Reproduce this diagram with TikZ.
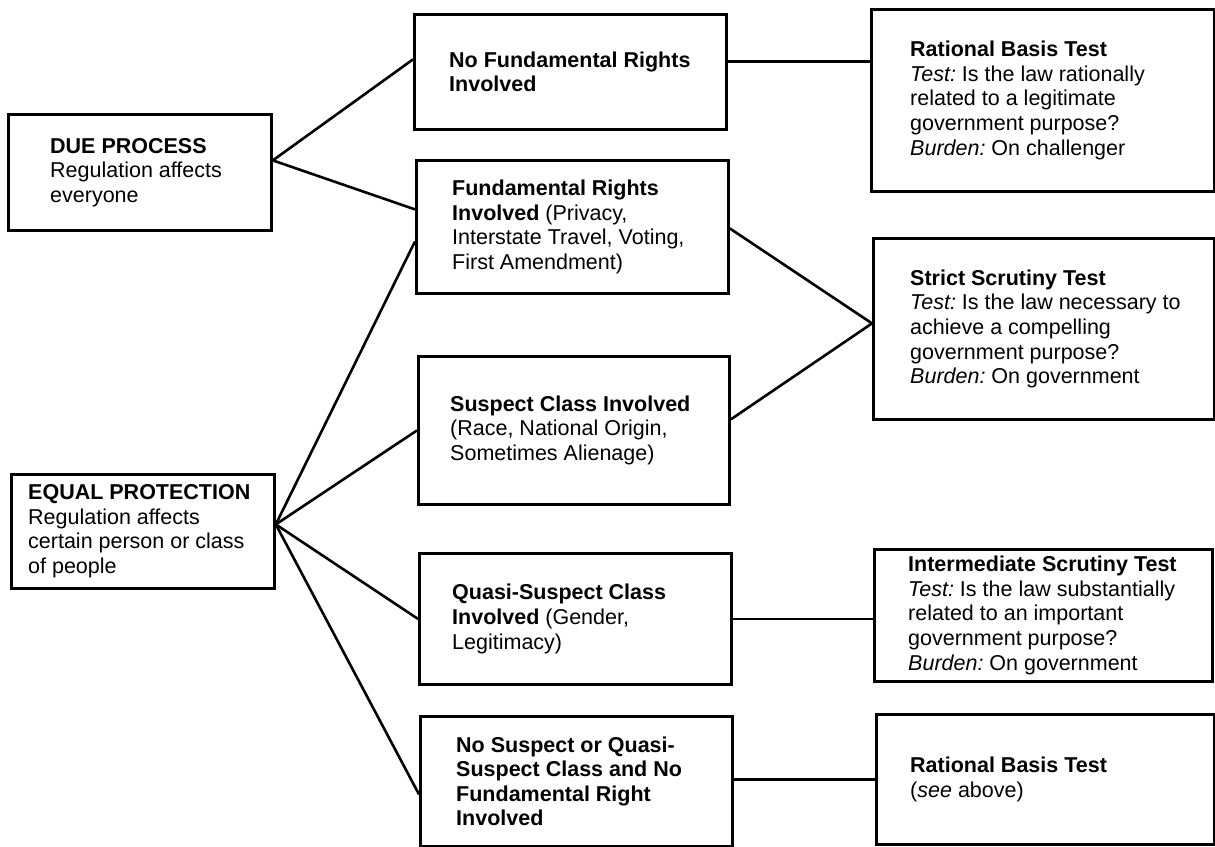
\documentclass[tikz,border=0pt]{standalone}
\usepackage{fontspec}
\setmainfont{Liberation Sans}
\begin{document}
\frenchspacing
\begin{tikzpicture}[x=1pt,y=-1pt,
  box/.style={draw, line width=2.8pt, rectangle, inner sep=0pt, anchor=north west},
  txt/.style={align=left, inner sep=0pt, anchor=west, font=\fontsize{21.5}{24.6}\selectfont\frenchspacing},
  link/.style={line width=2.6pt}]
\useasboundingbox (0,0) rectangle (1215,846);
% left column
\node[box, minimum width=263pt, minimum height=116pt] (due) at (7,113) {};
\node[box, minimum width=263pt, minimum height=114pt] (equal) at (10,473) {};
% middle column
\node[box, minimum width=312pt, minimum height=115pt] (nofund) at (413,13) {};
\node[box, minimum width=312pt, minimum height=133pt] (fund) at (415,159) {};
\node[box, minimum width=311pt, minimum height=148pt] (susp) at (417,355) {};
\node[box, minimum width=312pt, minimum height=131pt] (quasi) at (418,552) {};
\node[box, minimum width=312pt, minimum height=130pt] (nosusp) at (419,715) {};
% right column
\node[box, minimum width=343pt, minimum height=182pt] (rat) at (870,8) {};
\node[box, minimum width=341pt, minimum height=181pt] (strict) at (872,237) {};
\node[box, minimum width=338pt, minimum height=132pt] (inter) at (873,548) {};
\node[box, minimum width=338pt, minimum height=130pt] (rat2) at (875,713) {};
% texts
\node[txt] (dueT) at ([xshift=43pt]due.west) {\textbf{DUE PROCESS}\\Regulation affects\\everyone};
\node[txt] (equalT) at ([xshift=18pt]equal.west) {\textbf{EQUAL PROTECTION}\\Regulation affects\\certain person or class\\of people};
\node[txt] (nofundT) at ([xshift=36pt]nofund.west) {\textbf{No Fundamental Rights}\\\textbf{Involved}};
\node[txt] (fundT) at ([xshift=37pt]fund.west) {\textbf{Fundamental Rights}\\\textbf{Involved} (Privacy,\\Interstate Travel, Voting,\\First Amendment)};
\node[txt] (suspT) at ([xshift=33pt]susp.west) {\textbf{Suspect Class Involved}\\(Race, National Origin,\\Sometimes Alienage)};
\node[txt] (quasiT) at ([xshift=34pt]quasi.west) {\textbf{Quasi-Suspect Class}\\\textbf{Involved} (Gender,\\Legitimacy)};
\node[txt] (nosuspT) at ([xshift=37pt]nosusp.west) {\textbf{No Suspect or Quasi-}\\\textbf{Suspect Class and No}\\\textbf{Fundamental Right}\\\textbf{Involved}};
\node[txt] (ratT) at ([xshift=40pt]rat.west) {\textbf{Rational Basis Test}\\\textit{Test:} Is the law rationally\\related to a legitimate\\government purpose?\\\textit{Burden:} On challenger};
\node[txt] (strictT) at ([xshift=38pt]strict.west) {\textbf{Strict Scrutiny Test}\\\textit{Test:} Is the law necessary to\\achieve a compelling\\government purpose?\\\textit{Burden:} On government};
\node[txt] (interT) at ([xshift=35pt]inter.west) {\textbf{Intermediate Scrutiny Test}\\\textit{Test:} Is the law substantially\\related to an important\\government purpose?\\\textit{Burden:} On government};
\node[txt] (rat2T) at ([xshift=35pt]rat2.west) {\textbf{Rational Basis Test}\\(\textit{see} above)};
% connectors
\coordinate (dueP) at ([yshift=12pt]due.east);
\coordinate (eqP) at ([yshift=7pt]equal.east);
\draw[link] (dueP) -- ([yshift=12.5pt]nofund.west);
\draw[link] (dueP) -- ([yshift=17.5pt]fund.west);
\draw[link] (eqP) -- ([yshift=-14.5pt]fund.west);
\draw[link] (eqP) -- (susp.west);
\draw[link] (eqP) -- (quasi.west);
\draw[link] (eqP) -- ([yshift=-13pt]nosusp.west);
\coordinate (nfP) at ([yshift=10.5pt]nofund.east);
\draw[link] (nfP) -- (nfP -| rat.west);
\coordinate (stP) at ([yshift=5.5pt]strict.west);
\draw[link] ([yshift=-1.5pt]fund.east) -- (stP);
\draw[link] ([yshift=11pt]susp.east) -- (stP);
\draw[link] (quasi.east) -- (quasi.east -| inter.west);
\draw[link] ([yshift=2pt]nosusp.east) -- ([yshift=2pt]nosusp.east -| rat2.west);
\end{tikzpicture}
\end{document}
